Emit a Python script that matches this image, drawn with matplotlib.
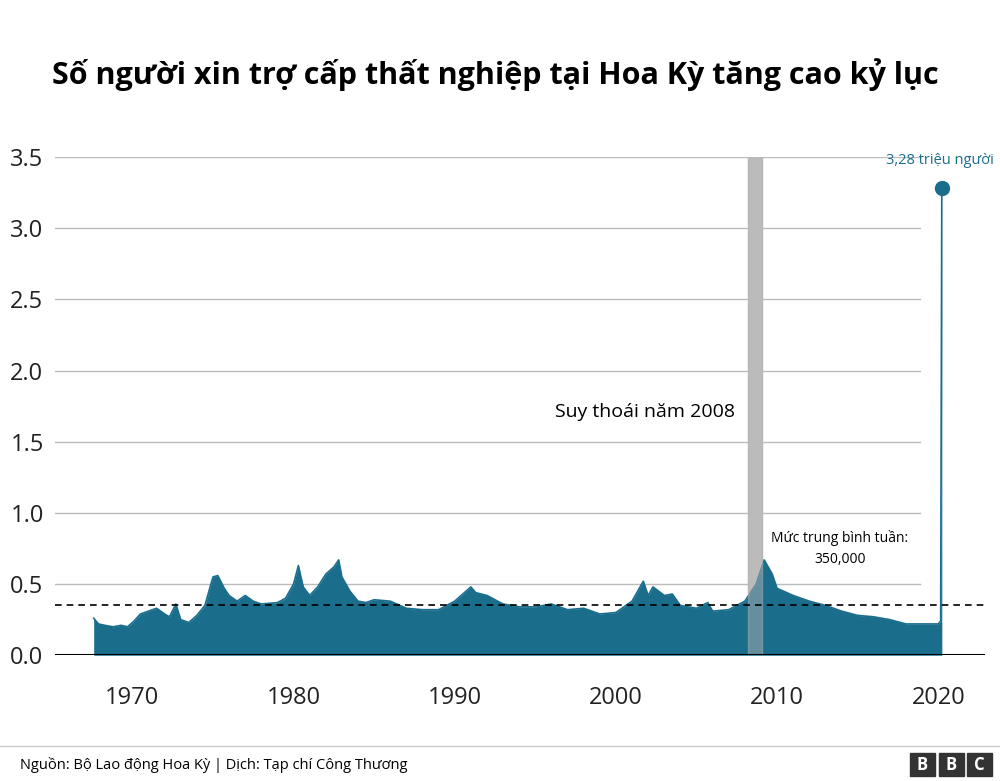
import matplotlib
matplotlib.use("Agg")
import matplotlib.pyplot as plt
from matplotlib.patches import Rectangle

# weekly claims (millions)
years = [1967.6, 1967.9, 1968.3, 1968.8, 1969.3, 1969.7, 1970.1, 1970.5, 1971.0, 1971.5,
         1972.0, 1972.3, 1972.7, 1973.0, 1973.5, 1974.0, 1974.5, 1975.0, 1975.3, 1975.7,
         1976.0, 1976.5, 1977.0, 1977.5, 1978.0, 1979.0, 1979.5, 1980.0, 1980.3, 1980.6,
         1981.0, 1981.5, 1982.0, 1982.5, 1982.8, 1983.0, 1983.5, 1984.0, 1984.5, 1985.0,
         1986.0, 1987.0, 1988.0, 1989.0, 1990.0, 1991.0, 1991.3, 1992.0, 1993.0, 1994.0,
         1995.0, 1996.0, 1997.0, 1998.0, 1999.0, 2000.0, 2001.0, 2001.7, 2002.0, 2002.3,
         2003.0, 2003.5, 2004.0, 2005.0, 2005.7, 2006.0, 2007.0, 2008.0, 2008.7, 2009.2,
         2009.7, 2010.0, 2011.0, 2012.0, 2013.0, 2014.0, 2015.0, 2016.0, 2017.0, 2018.0,
         2019.0, 2020.0, 2020.15, 2020.22]
claims = [0.26, 0.22, 0.21, 0.20, 0.21, 0.20, 0.24, 0.29, 0.31, 0.33,
          0.29, 0.27, 0.36, 0.25, 0.23, 0.28, 0.35, 0.55, 0.56, 0.47,
          0.42, 0.38, 0.42, 0.38, 0.36, 0.37, 0.40, 0.50, 0.63, 0.48,
          0.42, 0.48, 0.57, 0.62, 0.67, 0.55, 0.45, 0.38, 0.37, 0.39,
          0.38, 0.33, 0.32, 0.32, 0.38, 0.48, 0.44, 0.42, 0.36, 0.34,
          0.34, 0.36, 0.32, 0.33, 0.29, 0.30, 0.38, 0.52, 0.42, 0.48,
          0.42, 0.43, 0.35, 0.33, 0.37, 0.31, 0.32, 0.38, 0.50, 0.67,
          0.57, 0.47, 0.42, 0.38, 0.35, 0.31, 0.28, 0.27, 0.25, 0.22,
          0.22, 0.22, 0.24, 3.28]
average = 0.35
recession = (2008.2, 2009.05)
yticks = [0.0, 0.5, 1.0, 1.5, 2.0, 2.5, 3.0, 3.5]
xticks = [1970, 1980, 1990, 2000, 2010, 2020]

BLUE = "#1b6d8c"
plt.rcParams["font.family"] = ["Open Sans", "DejaVu Sans"]

fig = plt.figure(figsize=(10, 7.81), dpi=100)
ax = fig.add_axes([0.055, 0.161, 0.93, 0.638])
ax.set_xlim(1965.2, 2022.9)
ax.set_ylim(0, 3.5)

for t in yticks[1:]:
    ax.axhline(t, xmin=0, xmax=0.93, color="#bbbbbb", lw=1, zorder=0)
ax.axvspan(*recession, color="#c8c8c8", zorder=1)
ax.fill_between(years, claims, color=BLUE, lw=0, zorder=2)
ax.plot(years, claims, color=BLUE, lw=1.2, zorder=2)
ax.axvspan(*recession, color="#b0b0b0", alpha=0.5, zorder=3)
ax.plot(years[-1], claims[-1], "o", color=BLUE, ms=10, zorder=4)
ax.axhline(average, color="black", lw=1.2, ls=(0, (4, 3)), zorder=4)
ax.axhline(0, color="black", lw=1.5, zorder=5)

ax.text(2020.1, 3.42, "3,28 triệu người", color=BLUE, fontsize=10.5, ha="center", va="bottom")
ax.text(2007.4, 1.71, "Suy thoái năm 2008", fontsize=14, ha="right", va="center")
ax.text(2013.9, 0.75, "Mức trung bình tuần:\n350,000", fontsize=10, ha="center",
        va="center", linespacing=1.5)

ax.set_yticks(yticks)
ax.set_yticklabels([f"{t:.1f}" for t in yticks], fontsize=17, color="#222222")
ax.set_xticks(xticks)
ax.set_xticklabels([str(x) for x in xticks], fontsize=17, color="#222222")
ax.tick_params(length=0)
ax.tick_params(axis="y", pad=0)
for lab in ax.get_yticklabels():
    lab.set_horizontalalignment("left")
    lab.set_x(-0.048)
ax.tick_params(axis="x", pad=22)
for s in ax.spines.values():
    s.set_visible(False)

fig.text(0.495, 0.905, "Số người xin trợ cấp thất nghiệp tại Hoa Kỳ tăng cao kỷ lục",
         ha="center", va="center", fontsize=22, fontweight="bold")
fig.add_artist(plt.Line2D([0.0, 1.0], [0.045, 0.045], color="#cccccc", lw=1))
fig.text(0.02, 0.02, "Nguồn: Bộ Lao động Hoa Kỳ | Dịch: Tạp chí Công Thương",
         fontsize=10.5, va="center")
for i, ch in enumerate("BBC"):
    x0 = 0.910 + i * 0.0285
    fig.add_artist(Rectangle((x0, 0.006), 0.025, 0.03, color="#333333",
                             transform=fig.transFigure))
    fig.text(x0 + 0.0125, 0.021, ch, color="white", fontsize=12, fontweight="bold",
             ha="center", va="center")

fig.savefig("out.png", dpi=100, facecolor="white")
